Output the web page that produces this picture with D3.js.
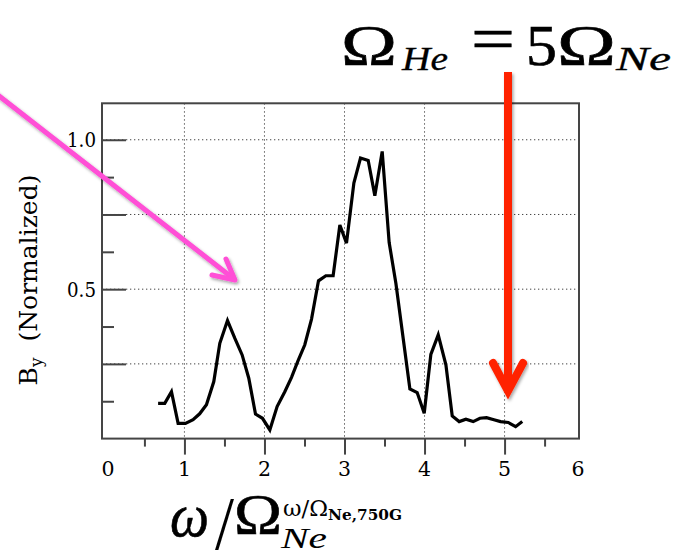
<!DOCTYPE html>
<html>
<head>
<meta charset="utf-8">
<script src="https://cdn.jsdelivr.net/npm/d3@7"></script>
<style>
  html, body { margin: 0; padding: 0; background: #fff; }
  svg { display: block; }
</style>
</head>
<body>
<svg id="chart" width="676" height="553"></svg>
<script>
// Normalized B_y spectrum against omega / Omega_Ne
const freq = [0.671, 0.754, 0.838, 0.921, 1.013, 1.108, 1.19, 1.275, 1.367, 1.442,
  1.538, 1.629, 1.721, 1.804, 1.888, 1.975, 2.067, 2.158, 2.254, 2.338,
  2.42, 2.504, 2.588, 2.675, 2.767, 2.858, 2.942, 3.025, 3.117, 3.2,
  3.296, 3.379, 3.471, 3.558, 3.642, 3.733, 3.817, 3.908, 3.996, 4.079,
  4.171, 4.267, 4.346, 4.433, 4.517, 4.608, 4.692, 4.775, 4.867, 4.95,
  5.046, 5.138, 5.221];
const byNorm = [0.118, 0.118, 0.157, 0.051, 0.051, 0.063, 0.083, 0.113, 0.191, 0.319,
  0.395, 0.336, 0.28, 0.202, 0.082, 0.068, 0.029, 0.107, 0.157, 0.205,
  0.261, 0.314, 0.4, 0.528, 0.545, 0.545, 0.715, 0.654, 0.855, 0.939,
  0.931, 0.813, 0.961, 0.656, 0.52, 0.336, 0.166, 0.154, 0.085, 0.282,
  0.347, 0.247, 0.076, 0.057, 0.065, 0.057, 0.068, 0.07, 0.063, 0.057,
  0.054, 0.04, 0.057];

// Axis ticks
const xTickValues = [0, 1, 2, 3, 4, 5, 6];
const xTickLabels = ["0", "1", "2", "3", "4", "5", "6"];
const xMajorTicks = [1, 2, 3, 4, 5];
const xMinorTicks = [0.5, 1.5, 2.5, 3.5, 4.5, 5.5];
const yMajorTicks = [0.25, 0.5, 0.75, 1.0];
const yMinorTicks = [0.125, 0.375, 0.625, 0.875];
const yTickValues = [0.5, 1.0];
const yTickLabels = ["0.5", "1.0"];

const svg = d3.select("#chart");
const xDomain = [-0.03, 5.93], yDomain = [0, 1.122];
const x = d3.scaleLinear().domain(xDomain).range([102, 579]);
const y = d3.scaleLinear().domain(yDomain).range([438.6, 103.3]);
const serif = "'DejaVu Serif', 'Liberation Serif', serif";
const times = "'Liberation Serif', 'Times New Roman', serif";
const frameColor = "#454545";

const defs = svg.append("defs");
const shadow = defs.append("filter").attr("id", "shadow")
  .attr("x", "-20%").attr("y", "-20%").attr("width", "140%").attr("height", "140%");
shadow.append("feDropShadow").attr("dx", 1.5).attr("dy", 2).attr("stdDeviation", 1.6)
  .attr("flood-color", "#000").attr("flood-opacity", 0.35);

// Dotted grid
const grid = svg.append("g").attr("stroke", "#444").attr("stroke-width", 1)
  .attr("stroke-dasharray", "1.3,2.7");
grid.selectAll("line.v").data(xMajorTicks).join("line").attr("class", "v")
  .attr("x1", d => x(d)).attr("x2", d => x(d))
  .attr("y1", y(yDomain[1])).attr("y2", y(0));
grid.selectAll("line.h").data(yMajorTicks).join("line").attr("class", "h")
  .attr("x1", x(xDomain[0])).attr("x2", x(xDomain[1]))
  .attr("y1", d => y(d)).attr("y2", d => y(d));

// Bottom ticks point outward
const xMajorAxis = d3.axisBottom(x).tickValues(xMajorTicks).tickSize(16).tickFormat("");
const xMinorAxis = d3.axisBottom(x).tickValues(xMinorTicks).tickSize(8).tickFormat("");
[xMajorAxis, xMinorAxis].forEach(ax => {
  const g = svg.append("g").attr("transform", `translate(0,${y(0)})`).call(ax);
  g.select(".domain").remove();
  g.selectAll("line").attr("stroke", frameColor).attr("stroke-width", 2);
});

// Left ticks point inward
const yMajorAxis = d3.axisRight(y).tickValues(yMajorTicks).tickSize(24).tickFormat("");
const yMinorAxis = d3.axisRight(y).tickValues(yMinorTicks).tickSize(12).tickFormat("");
[yMajorAxis, yMinorAxis].forEach(ax => {
  const g = svg.append("g").attr("transform", `translate(${x(xDomain[0])},0)`).call(ax);
  g.select(".domain").remove();
  g.selectAll("line").attr("stroke", frameColor).attr("stroke-width", 2);
});

// Frame
svg.append("rect")
  .attr("x", x(xDomain[0])).attr("y", y(yDomain[1]))
  .attr("width", x(xDomain[1]) - x(xDomain[0]))
  .attr("height", y(0) - y(yDomain[1]))
  .attr("fill", "none").attr("stroke", frameColor).attr("stroke-width", 2);

// Tick labels
svg.append("g").selectAll("text").data(xTickValues).join("text")
  .attr("x", d => Math.max(108, Math.min(578, x(d))))
  .attr("y", 476)
  .attr("text-anchor", "middle")
  .attr("font-family", serif).attr("font-size", 20.5).attr("fill", "#000")
  .text((d, i) => xTickLabels[i]);

svg.append("g").selectAll("text").data(yTickValues).join("text")
  .attr("x", 96)
  .attr("y", d => y(d) + 7.5)
  .attr("text-anchor", "end")
  .attr("font-family", serif).attr("font-size", 20).attr("fill", "#000")
  .attr("textLength", 29).attr("lengthAdjust", "spacingAndGlyphs")
  .text((d, i) => yTickLabels[i]);

// Y axis title
const yTitle = svg.append("text")
  .attr("transform", "translate(37,280) rotate(-90)")
  .attr("text-anchor", "middle")
  .attr("font-family", serif).attr("font-size", 25).attr("fill", "#000");
yTitle.append("tspan").text("B");
yTitle.append("tspan").attr("font-size", 17).attr("dy", 5).text("y");
yTitle.append("tspan").attr("dy", -5).text("\u00a0\u00a0(Normalized)");

// Spectrum
const line = d3.line().x(d => x(d[0])).y(d => y(d[1]));
svg.append("path")
  .datum(freq.map((f, i) => [f, byNorm[i]]))
  .attr("d", line)
  .attr("fill", "none").attr("stroke", "#000").attr("stroke-width", 3.2)
  .attr("stroke-linejoin", "miter");

// Pink pointer arrow
const pink = svg.append("g").attr("filter", "url(#shadow)")
  .attr("stroke", "#ff4fd6").attr("stroke-width", 5).attr("fill", "none")
  .attr("stroke-linecap", "round").attr("stroke-linejoin", "round");
pink.append("line").attr("x1", -6).attr("y1", 92).attr("x2", 234).attr("y2", 279);
pink.append("polyline").attr("points", "212,275 235,280 226,259");

// Red arrow at Omega_He = 5 Omega_Ne
const red = svg.append("g").attr("filter", "url(#shadow)")
  .attr("stroke", "#ff2400").attr("stroke-width", 8).attr("fill", "none");
red.append("line").attr("x1", 508).attr("y1", 72).attr("x2", 508).attr("y2", 388);
red.append("polyline").attr("points", "493,363 508,391 523,363")
  .attr("stroke-linecap", "round").attr("stroke-linejoin", "miter");

// Title: Omega_He = 5 Omega_Ne
const t = svg.append("g").attr("font-family", times).attr("fill", "#000")
  .attr("stroke", "#000").attr("stroke-width", 0.6);
t.append("text").attr("x", 341).attr("y", 65).attr("font-size", 56)
  .attr("textLength", 56).attr("lengthAdjust", "spacingAndGlyphs").text("\u03a9");
t.append("text").attr("x", 402).attr("y", 70).attr("font-size", 33).attr("font-style", "italic")
  .attr("textLength", 46).attr("lengthAdjust", "spacingAndGlyphs").attr("stroke-width", 0.3).text("He");
t.append("text").attr("x", 471).attr("y", 60).attr("font-size", 64)
  .attr("textLength", 44).attr("lengthAdjust", "spacingAndGlyphs").text("=");
t.append("text").attr("x", 526).attr("y", 65).attr("font-size", 56)
  .attr("textLength", 31).attr("lengthAdjust", "spacingAndGlyphs").text("5");
t.append("text").attr("x", 557).attr("y", 65).attr("font-size", 56)
  .attr("textLength", 59).attr("lengthAdjust", "spacingAndGlyphs").text("\u03a9");
t.append("text").attr("x", 616).attr("y", 70).attr("font-size", 33).attr("font-style", "italic")
  .attr("textLength", 55).attr("lengthAdjust", "spacingAndGlyphs").attr("stroke-width", 0.3).text("Ne");

// X axis title: omega / Omega_Ne
const xl = svg.append("g").attr("fill", "#000");
xl.append("text").attr("x", 170).attr("y", 536).attr("font-family", times)
  .attr("font-size", 62).attr("font-style", "italic")
  .attr("stroke", "#000").attr("stroke-width", 0.6)
  .attr("textLength", 39).attr("lengthAdjust", "spacingAndGlyphs").text("\u03c9");
xl.append("text").attr("x", 215).attr("y", 549).attr("font-family", times)
  .attr("font-size", 76).attr("textLength", 19).attr("lengthAdjust", "spacingAndGlyphs").text("/");
xl.append("text").attr("x", 234).attr("y", 534).attr("font-family", times)
  .attr("stroke", "#000").attr("stroke-width", 0.6)
  .attr("font-size", 56).attr("textLength", 48).attr("lengthAdjust", "spacingAndGlyphs").text("\u03a9");
xl.append("text").attr("x", 281).attr("y", 548).attr("font-family", times)
  .attr("font-size", 29).attr("font-style", "italic")
  .attr("textLength", 46).attr("lengthAdjust", "spacingAndGlyphs").text("Ne");
xl.append("text").attr("x", 283).attr("y", 516).attr("font-family", serif)
  .attr("font-size", 22).attr("textLength", 45).attr("lengthAdjust", "spacingAndGlyphs")
  .text("\u03c9/\u03a9");
xl.append("text").attr("x", 328).attr("y", 520).attr("font-family", serif)
  .attr("font-size", 15).attr("font-weight", "bold")
  .attr("textLength", 74).attr("lengthAdjust", "spacingAndGlyphs").text("Ne,750G");
</script>
</body>
</html>
